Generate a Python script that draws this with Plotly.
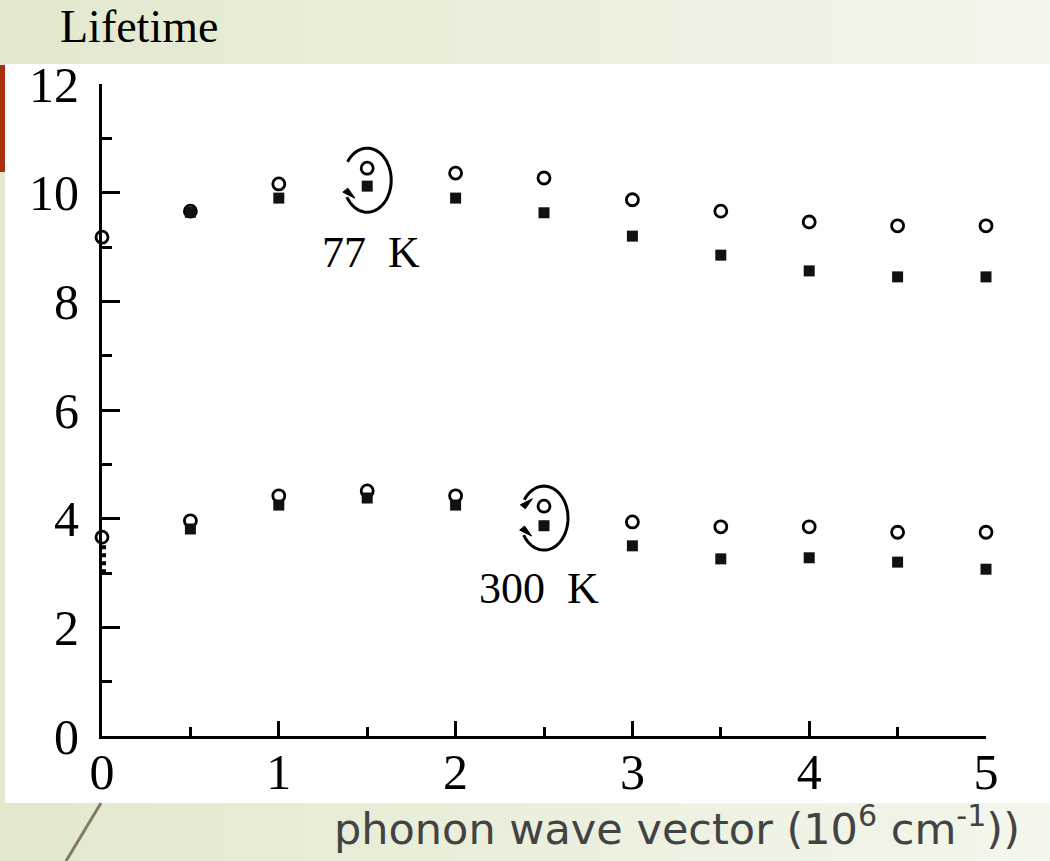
import numpy as np
import plotly.graph_objects as go

# ---------------- data ----------------
q = [0, 0.5, 1, 1.5, 2, 2.5, 3, 3.5, 4, 4.5, 5]
q_sq = [0.5, 1, 1.5, 2, 2.5, 3, 3.5, 4, 4.5, 5]

t77_open = [9.18, 9.66, 10.16, 10.45, 10.36, 10.27, 9.87, 9.66, 9.46, 9.39, 9.39]
t77_filled = [9.64, 9.90, 10.12, 9.90, 9.63, 9.20, 8.85, 8.56, 8.45, 8.45]
t300_open = [3.66, 3.96, 4.42, 4.51, 4.42, 4.23, 3.94, 3.85, 3.85, 3.75, 3.75]
t300_filled = [3.81, 4.25, 4.38, 4.25, 3.87, 3.50, 3.26, 3.28, 3.20, 3.07]

x_ticks = [0, 1, 2, 3, 4, 5]
y_ticks = [0, 2, 4, 6, 8, 10, 12]

labels = ["77\u00a0\u00a0K", "300\u00a0\u00a0K"]
label_pos = [(1.52, 8.89), (2.47, 2.72)]
ring_centers = [(1.5, 10.23), (2.5, 4.01)]

# ---------------- layout geometry (window pixels) ----------------
W, H = 1050, 861
L, TOP, RGT, BOT = 102, 84, 986, 736   # plot area in window pixels
PW, PH = RGT - L, BOT - TOP
XR, YR = (0, 5), (0, 12)


def px2paper(px, py):
    return (px - L) / PW, (BOT - py) / PH


fig = go.Figure()

ser_kw = dict(mode="markers", cliponaxis=False, showlegend=False, hoverinfo="x+y")
fig.add_trace(go.Scatter(x=q, y=t77_open, marker=dict(symbol="circle-open", size=12,
              color="black", line=dict(width=2.8)), **ser_kw))
fig.add_trace(go.Scatter(x=q_sq, y=t77_filled, marker=dict(symbol="square", size=11,
              color="#111111"), **ser_kw))
fig.add_trace(go.Scatter(x=q, y=t300_open, marker=dict(symbol="circle-open", size=12,
              color="black", line=dict(width=2.8)), **ser_kw))
fig.add_trace(go.Scatter(x=q_sq, y=t300_filled, marker=dict(symbol="square", size=11,
              color="#111111"), **ser_kw))

shapes = []
# background gradient stripes (slide decoration)
n = 14
c0 = np.array([0xe3, 0xe9, 0xcf])
c1 = np.array([0xf3, 0xf6, 0xeb])
for i in range(n):
    c = c0 + (c1 - c0) * i / (n - 1)
    x0p, y0p = px2paper(W * i / n, H)
    x1p, y1p = px2paper(W * (i + 1) / n + 1, 0)
    shapes.append(dict(type="rect", xref="paper", yref="paper", x0=x0p, x1=x1p,
                       y0=y0p, y1=y1p, fillcolor="rgb(%d,%d,%d)" % tuple(c.astype(int)),
                       line=dict(width=0), layer="below"))
# white image panel
a0, b0 = px2paper(5, 803)
a1, b1 = px2paper(W, 64)
shapes.append(dict(type="rect", xref="paper", yref="paper", x0=a0, x1=a1, y0=b0, y1=b1,
                   fillcolor="white", line=dict(width=0), layer="below"))
# red accent bar
a0, b0 = px2paper(0, 172)
a1, b1 = px2paper(5, 65)
shapes.append(dict(type="rect", xref="paper", yref="paper", x0=a0, x1=a1, y0=b0, y1=b1,
                   fillcolor="#a8300f", line=dict(width=0), layer="above"))
# diagonal slide line
a0, b0 = px2paper(101, 803)
a1, b1 = px2paper(66, 861)
shapes.append(dict(type="line", xref="paper", yref="paper", x0=a0, x1=a1, y0=b0, y1=b1,
                   line=dict(color="#857a5c", width=3)))

# ring arrows around highlighted points
sx = (XR[1] - XR[0]) / PW
sy = (YR[1] - YR[0]) / PH
for k, (cx, cy) in enumerate(ring_centers):
    rx, ry = 24 * sx, 32 * sy
    ang = np.radians(np.linspace(145, -148, 70))
    xs = cx + rx * np.cos(ang)
    ys = cy + ry * np.sin(ang)
    path = "M " + " L ".join("%.4f,%.4f" % (a, b) for a, b in zip(xs, ys))
    shapes.append(dict(type="path", xref="x", yref="y", path=path,
                       line=dict(color="black", width=3)))
    ends = [(xs[-1], ys[-1], 1)]
    if k == 1:
        ends.append((xs[0], ys[0], -1))
    for ex, ey, sgn in ends:
        tri = "M %.4f,%.4f L %.4f,%.4f L %.4f,%.4f Z" % (
            ex - 4 * sx, ey + sgn * 5 * sy,
            ex + 8 * sx, ey - sgn * 1 * sy,
            ex + 1 * sx, ey + sgn * 9 * sy)
        shapes.append(dict(type="path", xref="x", yref="y", path=tri,
                           fillcolor="black", line=dict(color="black", width=1)))

# short dotted segment on the y axis below the first 300 K point
shapes.append(dict(type="line", xref="x", yref="y", x0=2 * sx, x1=2 * sx,
                   y0=t300_open[0] - 8 * sy, y1=t300_open[0] - 40 * sy,
                   line=dict(color="black", width=4, dash="dot")))

annotations = []
for txt, (ax_, ay_) in zip(labels, label_pos):
    annotations.append(dict(x=ax_, y=ay_, xref="x", yref="y", text=txt, showarrow=False,
                            font=dict(family="Liberation Serif", size=44, color="black")))

tx, ty = px2paper(58, 27)
annotations.append(dict(x=tx, y=ty, xref="paper", yref="paper", text="Lifetime",
                        showarrow=False, xanchor="left", yanchor="middle",
                        font=dict(family="Liberation Serif", size=46, color="black")))
tx, ty = px2paper(677, 826)
annotations.append(dict(x=tx, y=ty, xref="paper", yref="paper",
                        text="phonon wave vector (10<sup>6</sup> cm<sup>-1</sup>))",
                        showarrow=False, xanchor="center", yanchor="middle",
                        font=dict(family="DejaVu Sans", size=43, color="#434343")))

tick_font = dict(family="Liberation Serif", size=50, color="black")
fig.update_layout(
    width=W, height=H,
    margin=dict(l=L, r=W - RGT, t=TOP, b=H - BOT, pad=0),
    paper_bgcolor="#e6ebd3",
    plot_bgcolor="white",
    shapes=shapes,
    annotations=annotations,
    xaxis=dict(range=list(XR), tickvals=x_ticks, ticktext=[str(v) for v in x_ticks],
               ticks="inside", ticklen=15, tickwidth=3, tickcolor="black",
               minor=dict(dtick=0.5, tick0=0, ticks="inside", ticklen=9, tickwidth=3,
                          tickcolor="black"),
               showline=True, linewidth=3, linecolor="black", mirror=False,
               showgrid=False, zeroline=False, tickfont=tick_font, ticklabelstandoff=-10),
    yaxis=dict(range=list(YR), tickvals=y_ticks, ticktext=[str(v) for v in y_ticks],
               ticks="inside", ticklen=18, tickwidth=3, tickcolor="black",
               minor=dict(dtick=1, tick0=0, ticks="inside", ticklen=10, tickwidth=3,
                          tickcolor="black"),
               showline=True, linewidth=3, linecolor="black", mirror=False,
               showgrid=False, zeroline=False, tickfont=tick_font, ticklabelstandoff=10),
)

fig.write_html("out.html", config={"displayModeBar": False},
               post_script="document.body.style.margin='0';")
